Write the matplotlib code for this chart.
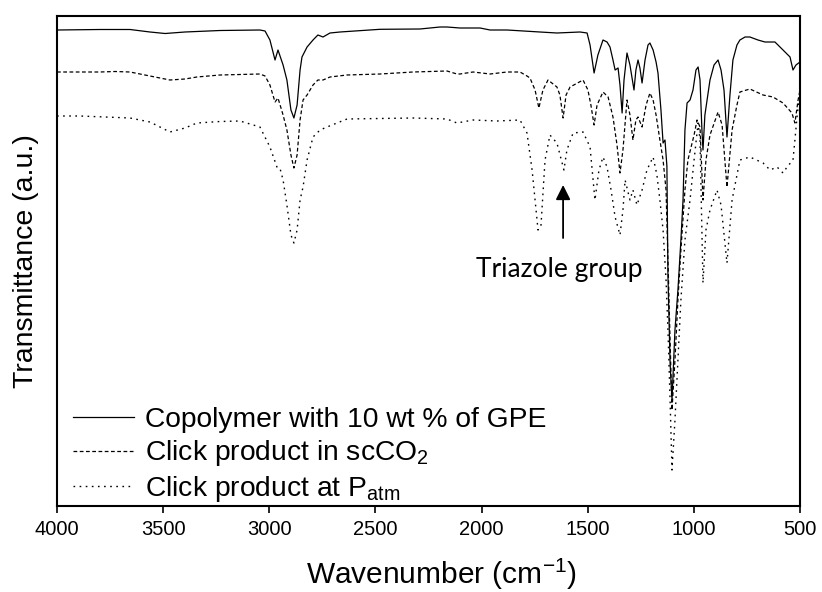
import matplotlib
matplotlib.use("Agg")
import matplotlib.pyplot as plt

plt.rcParams['font.family'] = ['Liberation Sans', 'DejaVu Sans']
plt.rcParams['mathtext.default'] = 'regular'

# ---- data (wavenumber in cm-1, transmittance in a.u.) ----
copolymer_wn = [4000, 3797, 3656, 3562, 3491, 3397, 3232, 3044, 3020, 2997,
                2973, 2959, 2935, 2917, 2898, 2884, 2869, 2855, 2846, 2822,
                2794, 2771, 2747, 2714, 2667, 2478, 2290, 2196, 2163, 2102,
                2007, 1960, 1880, 1725, 1645, 1536, 1503, 1489, 1470, 1452,
                1428, 1409, 1395, 1381, 1371, 1357, 1348, 1338, 1329, 1315,
                1301, 1282, 1273, 1263, 1254, 1244, 1230, 1216, 1207, 1192,
                1178, 1169, 1155, 1145, 1136, 1127, 1122, 1112, 1103, 1089,
                1075, 1061, 1051, 1042, 1032, 1018, 1004, 990, 980, 971,
                962, 957, 948, 924, 905, 886, 872, 858, 844, 830,
                816, 797, 783, 759, 736, 698, 665, 618, 580, 547,
                533, 519, 500]
copolymer_T = [47.6, 47.65, 47.65, 47.4, 47.25, 47.4, 47.55, 47.6, 47.5, 46.6,
               44.6, 45.6, 44.1, 42.6, 39.6, 38.8, 40.1, 43.6, 44.9, 45.9,
               46.6, 47.1, 46.9, 47.3, 47.4, 47.67, 47.7, 47.9, 47.9, 47.8,
               47.8, 47.6, 47.6, 47.4, 47.3, 47.4, 47.3, 46.1, 43.3, 45.1,
               46.6, 46.4, 45.9, 44.6, 43.6, 43.8, 42.1, 39.3, 42.6, 45.3,
               44.1, 41.6, 43.6, 44.6, 43.8, 42.3, 44.6, 46.1, 46.3, 45.6,
               44.4, 43.3, 39.6, 36.3, 36.6, 34.0, 23.0, 14.3, 10.6, 17.6,
               21.6, 26.6, 30.6, 37.6, 40.3, 40.6, 41.6, 43.6, 43.9, 42.6,
               37.6, 35.6, 39.1, 42.6, 44.1, 44.6, 43.6, 41.6, 36.9, 41.1,
               44.6, 46.1, 46.6, 46.9, 46.9, 46.6, 46.4, 46.4, 45.6, 44.9,
               43.6, 44.1, 44.4]

scco2_wn = [4000, 3892, 3797, 3727, 3656, 3562, 3468, 3397, 3341, 3232,
            3138, 3044, 3020, 2997, 2973, 2959, 2935, 2917, 2898, 2884,
            2869, 2855, 2841, 2822, 2794, 2771, 2747, 2714, 2634, 2478,
            2323, 2163, 2116, 2102, 2040, 1960, 1880, 1819, 1786, 1772,
            1748, 1730, 1711, 1687, 1645, 1631, 1616, 1602, 1583, 1522,
            1499, 1485, 1470, 1456, 1428, 1404, 1381, 1362, 1348, 1334,
            1315, 1301, 1287, 1273, 1263, 1244, 1225, 1207, 1192, 1178,
            1160, 1145, 1131, 1122, 1112, 1103, 1089, 1075, 1061, 1042,
            1028, 999, 985, 971, 957, 943, 924, 886, 867, 844,
            820, 797, 783, 736, 674, 627, 580, 538, 524, 509,
            500]
scco2_T = [43.4, 43.4, 43.4, 43.45, 43.4, 43.0, 42.6, 42.7, 42.9, 43.1,
           43.15, 43.2, 43.0, 42.1, 40.4, 40.8, 39.1, 37.6, 35.1, 33.8,
           35.1, 38.6, 40.6, 41.1, 42.1, 42.6, 42.6, 42.9, 43.1, 43.2,
           43.4, 43.5, 43.2, 43.2, 43.4, 43.2, 43.4, 43.4, 43.0, 42.8,
           41.6, 39.8, 41.6, 42.6, 41.9, 41.1, 38.8, 41.1, 41.9, 42.6,
           41.6, 40.1, 38.1, 40.1, 41.4, 40.9, 38.9, 36.1, 33.3, 35.6,
           40.6, 39.1, 36.6, 38.6, 38.9, 37.9, 40.1, 41.3, 40.6, 39.1,
           36.6, 34.6, 31.6, 24.6, 16.6, 9.6, 14.6, 20.6, 25.6, 31.6,
           34.6, 37.1, 38.6, 37.9, 30.6, 34.6, 37.1, 39.4, 38.1, 31.9,
           37.6, 40.1, 41.4, 41.7, 41.1, 40.9, 40.3, 39.3, 38.3, 40.6,
           41.6]

patm_wn = [4000, 3892, 3656, 3562, 3468, 3397, 3341, 3232, 3138, 3044,
           2997, 2964, 2950, 2935, 2917, 2898, 2884, 2869, 2855, 2841,
           2822, 2794, 2761, 2728, 2634, 2323, 2163, 2116, 2040, 1927,
           1819, 1786, 1762, 1734, 1720, 1701, 1678, 1645, 1612, 1598,
           1569, 1522, 1489, 1466, 1447, 1428, 1409, 1390, 1371, 1348,
           1334, 1324, 1301, 1287, 1268, 1244, 1221, 1192, 1174, 1160,
           1145, 1131, 1122, 1112, 1103, 1089, 1075, 1061, 1042, 1018,
           999, 980, 971, 957, 943, 924, 891, 872, 844, 820,
           783, 736, 674, 641, 608, 580, 561, 533, 524, 514,
           500]
patm_T = [39.0, 39.0, 38.8, 38.4, 37.4, 37.8, 38.3, 38.45, 38.5, 37.9,
          35.9, 33.9, 33.8, 32.6, 30.1, 27.1, 26.3, 27.6, 30.6, 31.9,
          34.6, 36.9, 37.6, 37.9, 38.7, 38.8, 38.7, 38.3, 38.6, 38.5,
          38.6, 37.3, 33.6, 27.6, 28.1, 34.6, 37.1, 36.3, 33.6, 35.6,
          37.3, 37.4, 35.9, 30.6, 33.6, 34.9, 33.9, 31.6, 28.9, 27.1,
          29.6, 32.6, 30.6, 31.6, 30.1, 31.6, 33.6, 34.9, 33.1, 30.6,
          27.6, 22.6, 17.6, 10.6, 3.6, 8.6, 14.6, 20.6, 26.6, 30.6,
          34.6, 38.3, 36.6, 22.3, 27.6, 29.6, 31.6, 30.1, 24.3, 30.6,
          34.6, 34.9, 34.3, 33.6, 33.9, 33.3, 33.9, 34.6, 36.6, 38.9,
          41.6]

series_labels = ['Copolymer with 10 wt % of GPE',
                 'Click product in scCO$_2$',
                 'Click product at P$_{atm}$']
x_ticks = [4000, 3500, 3000, 2500, 2000, 1500, 1000, 500]
annotation_text = 'Triazole group'
arrow_wn = 1616
arrow_tip_T = 32.1
arrow_tail_T = 26.8
text_wn = 1635
text_T = 23.6

# ---- figure ----
fig = plt.figure(figsize=(8.22, 5.92), dpi=100)
ax = fig.add_axes([57/822, 86/592, 743/822, 490/592])

ax.plot(copolymer_wn, copolymer_T, color='black', lw=0.9, ls='-', label=series_labels[0])
ax.plot(scco2_wn, scco2_T, color='black', lw=0.9, ls=(0, (3, 2)), label=series_labels[1])
ax.plot(patm_wn, patm_T, color='black', lw=1.0, ls=(0, (1.2, 3.2)), label=series_labels[2])

ax.set_xlim(4000, 500)
ax.set_ylim(0, 49)
ax.set_xticks(x_ticks)
ax.set_xticklabels([str(t) for t in x_ticks])
ax.set_yticks([])
ax.tick_params(axis='x', direction='out', length=5, width=1.2, pad=5, labelsize=14.5)
for s in ax.spines.values():
    s.set_linewidth(1.5)

ax.set_xlabel('Wavenumber (cm$^{-1}$)', fontsize=21.5, labelpad=13)
ax.xaxis.label.set_x(0.518)
ax.set_ylabel('Transmittance (a.u.)', fontsize=20.5, labelpad=13)

ax.annotate('', xy=(arrow_wn, arrow_tip_T), xytext=(arrow_wn, arrow_tail_T),
            arrowprops=dict(arrowstyle='-|>', color='black', lw=1.3,
                            mutation_scale=22, shrinkA=0, shrinkB=0))
ax.text(text_wn, text_T, annotation_text, ha='center', va='center',
        fontsize=19, family=['Lato', 'DejaVu Sans'])

leg = ax.legend(loc='lower left', bbox_to_anchor=(0.0215, 0.004), frameon=False,
                fontsize=20.3, handlelength=2.15, handletextpad=0.4,
                labelspacing=0.2, borderpad=0, borderaxespad=0)

fig.savefig('out.png', dpi=100)
